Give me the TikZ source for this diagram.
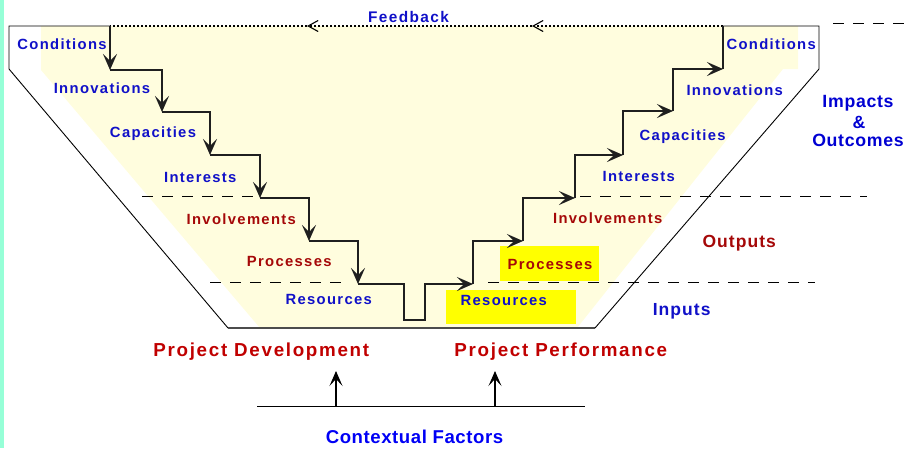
\documentclass[tikz,border=0pt]{standalone}
\usepackage{fontspec}
\setmainfont{Liberation Sans}
\newfontfamily\lf{Liberation Sans}
\usetikzlibrary{arrows.meta}
\definecolor{lblue}{RGB}{16,16,200}
\definecolor{lred}{RGB}{165,8,8}
\definecolor{tred}{RGB}{192,0,0}
\definecolor{cblue}{RGB}{0,0,245}
\definecolor{ibblue}{RGB}{0,0,210}
\definecolor{cream}{RGB}{255,253,222}
\definecolor{aqua}{RGB}{150,255,215}
\definecolor{hiyel}{RGB}{255,255,0}
\begin{document}
\begin{tikzpicture}[x=1pt,y=-1pt,
  stair/.style={line width=1.5pt,draw=black!88},
  tipped/.style={-{Stealth[length=16pt,width=14pt,inset=7pt]}},
  vline/.style={line width=0.9pt,draw=black},
  sep/.style={line width=0.9pt,draw=black,dash pattern=on 11pt off 9pt},
  fb/.style={line width=1.1pt,draw=black,dash pattern=on 2.5pt off 1.5pt},
  fbtip/.style={-{Straight Barb[length=10pt,width=11pt,line width=1.1pt]}},
  lab/.style={anchor=base,inner sep=0pt,font={\lf\fontsize{14.8}{17}\selectfont\bfseries\addfontfeature{LetterSpace=9}}},
  bl/.style={lab,text=lblue},
  rd/.style={lab,text=lred},
  big/.style={anchor=base,inner sep=0pt,font={\lf\fontsize{17.7}{20}\selectfont\bfseries\addfontfeature{LetterSpace=4}},text=ibblue},
  mid/.style={anchor=base,inner sep=0pt,font={\lf\fontsize{17.5}{20}\selectfont\bfseries\addfontfeature{LetterSpace=6}}},
  proj/.style={anchor=base,inner sep=0pt,text=tred,font={\lf\fontsize{18.8}{21}\selectfont\bfseries\addfontfeature{LetterSpace=9}}},
  ctx/.style={anchor=base,inner sep=0pt,text=cblue,font={\lf\fontsize{18.6}{21}\selectfont\bfseries\addfontfeature{LetterSpace=3}}},
  up/.style={line width=1.1pt,draw=black,-{Stealth[length=15pt,width=13pt,inset=7pt]}}
]
\useasboundingbox (0,0) rectangle (908,448);
% left strip
\fill[aqua] (0,0) rectangle (4,448);
% cream interior
\fill[cream] (41,26) -- (798,26) -- (798,69) -- (783,69) -- (577,328) -- (260,328) -- (41,70) -- cycle;
% highlight boxes
\fill[hiyel] (446,290) rectangle (576,324);
\fill[hiyel] (500,246) rectangle (599,281);
% separators
\draw[sep] (142,196) -- (254,196);
\draw[sep] (580,196) -- (867,196);
\draw[sep] (210,282) -- (350,282);
\draw[sep] (488,282) -- (815,282);
\draw[sep] (833,23) -- (908,23);
% V outline
\coordinate (v1) at (9,26);
\coordinate (v2) at (9,69);
\coordinate (v3) at (228,328);
\coordinate (v4) at (595,328);
\coordinate (v5) at (819,69);
\coordinate (v6) at (819,26);
% staircase coordinates
\coordinate (L0) at (110,26);
\coordinate (L1) at (110,70);
\coordinate (L1b) at (162,70);
\coordinate (L2) at (162,112);
\coordinate (L2b) at (210,112);
\coordinate (L3) at (210,155);
\coordinate (L3b) at (260,155);
\coordinate (L4) at (260,198);
\coordinate (L4b) at (309,198);
\coordinate (L5) at (309,241);
\coordinate (L5b) at (358,241);
\coordinate (L6) at (358,284);
\coordinate (B1) at (404,284);
\coordinate (B2) at (404,320);
\coordinate (B3) at (425,320);
\coordinate (B4) at (425,284);
\coordinate (R1) at (473,284);
\coordinate (R1b) at (473,241);
\coordinate (R2) at (523,241);
\coordinate (R2b) at (523,198);
\coordinate (R3) at (575,198);
\coordinate (R3b) at (575,155);
\coordinate (R4) at (623,155);
\coordinate (R4b) at (623,111);
\coordinate (R5) at (673,111);
\coordinate (R5b) at (673,69);
\coordinate (R6) at (723,69);
\coordinate (R7) at (723,26);
\coordinate (fa1) at (532,26);
\coordinate (fa2) at (307,26);
\draw[vline] (L0) -- (v1) -- (v2) -- (v3);
\draw[line width=1.4pt,draw=black!70] (v3) -- (v4);
\draw[vline] (v4) -- (v5) -- (v6) -- (R7);
% feedback
\draw[fb,fbtip] (R7) -- (fa1);
\draw[fb,fbtip] (fa1) -- (fa2);
\draw[fb] (fa2) -- (L0);
% staircase
\draw[stair,tipped] (L0) -- (L1);
\draw[stair,tipped] (L1) -- (L1b) -- (L2);
\draw[stair,tipped] (L2) -- (L2b) -- (L3);
\draw[stair,tipped] (L3) -- (L3b) -- (L4);
\draw[stair,tipped] (L4) -- (L4b) -- (L5);
\draw[stair,tipped] (L5) -- (L5b) -- (L6);
\draw[stair,tipped] (L6) -- (B1) -- (B2) -- (B3) -- (B4) -- (R1);
\draw[stair,tipped] (R1) -- (R1b) -- (R2);
\draw[stair,tipped] (R2) -- (R2b) -- (R3);
\draw[stair,tipped] (R3) -- (R3b) -- (R4);
\draw[stair,tipped] (R4) -- (R4b) -- (R5);
\draw[stair,tipped] (R5) -- (R5b) -- (R6);
\draw[stair] (R6) -- (R7);
% labels left
\node[bl] (cl) at (62,49.3) {Conditions};
\node[bl] (il) at (102,93.3) {Innovations};
\node[bl] (cal) at (153,137.7) {Capacities};
\node[bl] (inl) at (200.3,182.7) {Interests};
\node[rd] (ivl) at (241.3,224.3) {Involvements};
\node[rd] (pl) at (289.2,266) {Processes};
\node[bl] (rl) at (328.7,304) {Resources};
% labels right
\node[bl] (rr) at (503.8,305) {Resources};
\node[rd] (pr) at (550,269.3) {Processes};
\node[rd] (ivr) at (607.7,223.3) {Involvements};
\node[bl] (inr) at (638.8,181.7) {Interests};
\node[bl] (car) at (682.7,140) {Capacities};
\node[bl] (ir) at (734.7,95) {Innovations};
\node[bl] (cr) at (771.2,49.3) {Conditions};
\node[bl,font={\lf\fontsize{15.4}{18}\selectfont\bfseries\addfontfeature{LetterSpace=9}}] (fbk) at (408.5,22.7) {Feedback};
% side labels
\node[big] (imp) at (858,107.7) {Impacts};
\node[big] (amp) at (859,128.3) {\&};
\node[big] (out) at (858,146.7) {Outcomes};
\node[mid,text=lred] (opt) at (739.2,247.3) {Outputs};
\node[mid,text=lblue] (inp) at (681.7,315.7) {Inputs};
% bottom
\node[proj] (pd) at (261.3,356.7) {Project Development};
\node[proj] (pp) at (560.8,356.7) {Project Performance};
\node[ctx] (cf) at (414.5,443) {Contextual Factors};
\coordinate (c1) at (257,406);
\coordinate (c2) at (585,406);
\coordinate (a1) at (336,406);
\coordinate (a1t) at (336,371);
\coordinate (a2) at (495,406);
\coordinate (a2t) at (495,371);
\draw[line width=1pt] (c1) -- (c2);
\draw[up] (a1) -- (a1t);
\draw[up] (a2) -- (a2t);
\end{tikzpicture}
\end{document}
